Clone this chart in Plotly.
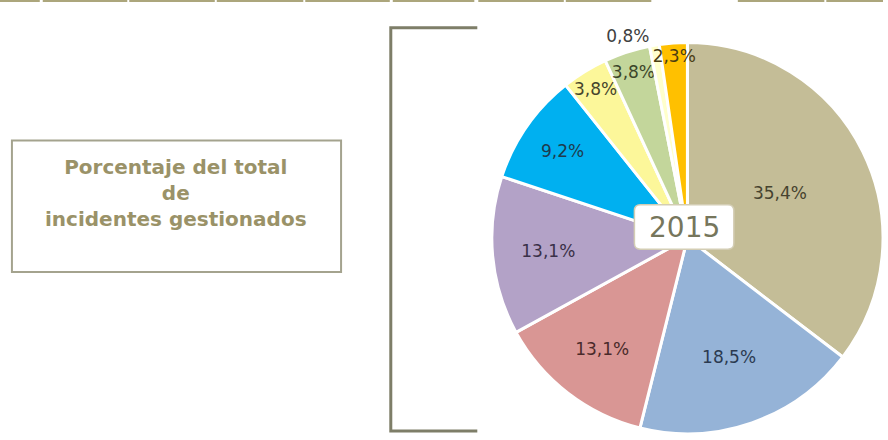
import plotly.graph_objects as go

# ---- data ----
categories = ["A", "B", "C", "D", "E", "F", "G", "H", "I"]
values = [35.4, 18.5, 13.1, 13.1, 9.2, 3.8, 3.8, 0.8, 2.3]
year_label = "2015"
box_lines = ["Porcentaje del total", "de", "incidentes gestionados"]

# ---- styles ----
slice_colors = ["#C4BD97", "#95B3D7", "#D99694", "#B3A2C7", "#00B0F0",
                "#FCF79A", "#C3D69B", "#FFFFCC", "#FFC000"]
label_colors = ["#46432F", "#2B3A50", "#4A2A2A", "#3A3048", "#1E3B4E",
                "#46452C", "#3C462A", "#404040", "#4A3C12"]
text_pos = ["inside"] * 7 + ["outside", "inside"]

W, H = 888, 440


def px(x):
    return x / W


def py(y):
    return 1 - y / H


fig = go.Figure()
fig.add_trace(go.Pie(
    labels=categories,
    values=values,
    sort=False,
    direction="clockwise",
    rotation=0,
    marker=dict(colors=slice_colors, line=dict(color="white", width=3)),
    texttemplate="%{value:.1f}%",
    textposition=text_pos,
    insidetextorientation="horizontal",
    textfont=dict(family="DejaVu Sans", size=17, color=label_colors),
    outsidetextfont=dict(family="DejaVu Sans", size=17, color="#404040"),
    domain=dict(x=[0.557, 1.0], y=[0.0, 0.905]),
    hoverinfo="skip",
    showlegend=False,
))

shapes = []
# top table strip
for x0, x1 in [(0, 40), (43, 128), (130, 216), (218, 305), (307, 392),
               (395, 477), (481, 567), (569, 655), (742, 829), (831, 888)]:
    shapes.append(dict(type="rect", xref="paper", yref="paper",
                       x0=px(x0), x1=px(x1), y0=py(2), y1=py(0),
                       line=dict(width=0), fillcolor="#ACA67C"))
# left text box
shapes.append(dict(type="rect", xref="paper", yref="paper",
                   x0=px(12), x1=px(343), y0=py(275), y1=py(142),
                   line=dict(color="#A4A38E", width=2), fillcolor="white"))
# bracket
shapes.append(dict(type="path", xref="paper", yref="paper",
                   path=f"M {px(480)},{py(28)} L {px(393)},{py(28)} L {px(393)},{py(436)} L {px(480)},{py(436)}",
                   line=dict(color="#7E7E68", width=3)))
# rounded box behind the year
bx0, bx1, by0, by1, r = 638, 738, 207, 252, 6
rx, ry = r / W, r / H
path = (f"M {px(bx0)+rx},{py(by0)} L {px(bx1)-rx},{py(by0)} "
        f"Q {px(bx1)},{py(by0)} {px(bx1)},{py(by0)-ry} "
        f"L {px(bx1)},{py(by1)+ry} Q {px(bx1)},{py(by1)} {px(bx1)-rx},{py(by1)} "
        f"L {px(bx0)+rx},{py(by1)} Q {px(bx0)},{py(by1)} {px(bx0)},{py(by1)+ry} "
        f"L {px(bx0)},{py(by0)-ry} Q {px(bx0)},{py(by0)} {px(bx0)+rx},{py(by0)} Z")
shapes.append(dict(type="path", xref="paper", yref="paper", path=path,
                   line=dict(color="#D3CDB4", width=1.5), fillcolor="white",
                   layer="above"))

annotations = [
    dict(text="<br>".join(box_lines), xref="paper", yref="paper",
         x=px(177), y=py(195), xanchor="center", yanchor="middle",
         showarrow=False, align="center",
         font=dict(family="DejaVu Sans", size=20, color="#9A9268", weight="bold")),
    dict(text=year_label, xref="paper", yref="paper",
         x=px(688), y=py(230), xanchor="center", yanchor="middle",
         showarrow=False,
         font=dict(family="DejaVu Sans", size=28, color="#76765C")),
]

fig.update_layout(
    width=W, height=H,
    margin=dict(l=0, r=0, t=0, b=0),
    paper_bgcolor="white", plot_bgcolor="white",
    separators=",.",
    uniformtext=dict(minsize=17, mode="show"),
    shapes=shapes,
    annotations=annotations,
)

fig.write_html("out.html")
